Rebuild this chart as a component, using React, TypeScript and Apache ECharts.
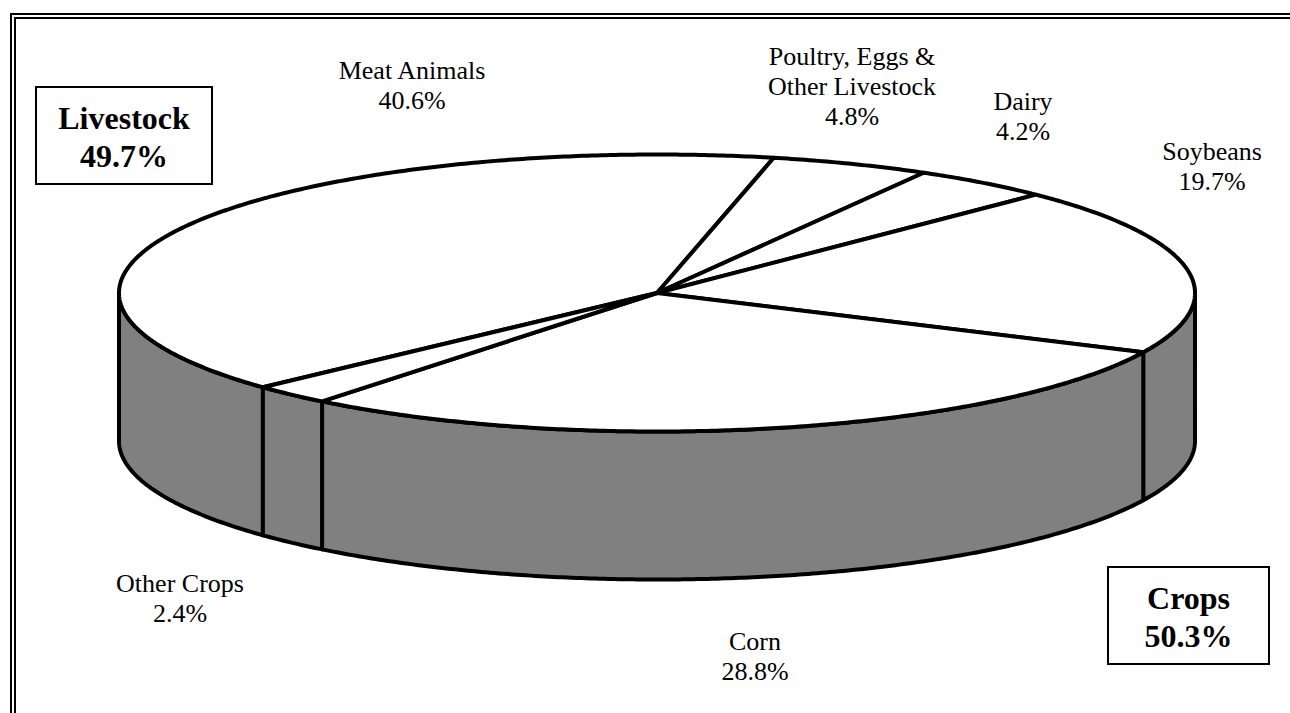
import React, { useEffect, useRef } from 'react';
import * as echarts from 'echarts';

// ---- data ----
const categories = ['Meat Animals', 'Poultry, Eggs &\nOther Livestock', 'Dairy', 'Soybeans', 'Corn', 'Other Crops'];
const values = [40.6, 4.8, 4.2, 19.7, 28.8, 2.4];
const groupNames = ['Livestock', 'Crops'];
const groupValues = [49.7, 50.3];

// ---- layout (positions / styles only) ----
const CX = 657;
const CY = 293;
const RX = 538;
const RY = 138.5;
const DEPTH = 148;
const START_DEG = 137.1; // parametric angle (clockwise, screen coords) where the first slice starts
const LABEL_POS: [number, number][] = [
  [412, 55],
  [852, 41],
  [1023, 86],
  [1212, 136],
  [755, 626],
  [180, 568],
];
const GROUP_BOX: [number, number, number, number][] = [
  [36, 87, 176, 97],
  [1108, 567, 161, 97],
];
const FONT = '"Liberation Serif", "Times New Roman", serif';

function pt(tDeg: number, dy: number): number[] {
  const t = (tDeg * Math.PI) / 180;
  return [CX + RX * Math.cos(t), CY + RY * Math.sin(t) + dy];
}

function arcPoints(a: number, b: number, dy: number): number[][] {
  const pts: number[][] = [];
  const n = Math.max(2, Math.ceil(Math.abs(b - a) / 0.5));
  for (let k = 0; k <= n; k++) pts.push(pt(a + ((b - a) * k) / n, dy));
  return pts;
}

export default function App() {
  const ref = useRef<HTMLDivElement>(null);
  useEffect(() => {
    if (!ref.current) return;
    const chart = echarts.init(ref.current, undefined, { renderer: 'svg' });
    const total = values.reduce((s, v) => s + v, 0);

    const renderItem = (params: any, api: any) => {
      const i = params.dataIndex;
      let before = 0;
      for (let k = 0; k < i; k++) before += values[k];
      const v = api.value(0);
      const a0 = START_DEG + (before / total) * 360;
      const span = (v / total) * 360;
      const children: any[] = [];
      const n0 = ((a0 % 360) + 360) % 360;
      const n1 = n0 + span;
      const ranges = [
        [0, 180],
        [360, 540],
      ];
      for (const [lo, hi] of ranges) {
        const s = Math.max(n0, lo);
        const e = Math.min(n1, hi);
        if (e > s) {
          const top = arcPoints(s, e, 0);
          const bottom = arcPoints(e, s, DEPTH);
          children.push({
            type: 'polygon',
            shape: { points: top.concat(bottom) },
            style: { fill: '#808080', stroke: '#000', lineWidth: 4, lineJoin: 'round' },
          });
        }
      }
      const face = [[CX, CY]].concat(arcPoints(a0, a0 + span, 0));
      children.push({
        type: 'polygon',
        shape: { points: face },
        style: { fill: '#ffffff', stroke: '#000', lineWidth: 4, lineJoin: 'round' },
      });
      return { type: 'group', children };
    };

    const graphics: any[] = [
      {
        type: 'rect',
        shape: { x: 11, y: 14, width: 1400, height: 800 },
        style: { fill: 'none', stroke: '#000', lineWidth: 2 },
        silent: true,
      },
      {
        type: 'rect',
        shape: { x: 15, y: 18, width: 1400, height: 800 },
        style: { fill: 'none', stroke: '#000', lineWidth: 2 },
        silent: true,
      },
    ];
    categories.forEach((c, i) => {
      graphics.push({
        type: 'text',
        x: LABEL_POS[i][0],
        y: LABEL_POS[i][1],
        silent: true,
        style: {
          text: `${c}\n${values[i].toFixed(1)}%`,
          fill: '#000',
          fontFamily: FONT,
          fontSize: 26,
          lineHeight: 30,
          align: 'center',
          verticalAlign: 'top',
        },
      });
    });
    groupNames.forEach((g, i) => {
      const [x, y, w, h] = GROUP_BOX[i];
      graphics.push({
        type: 'rect',
        shape: { x, y, width: w, height: h },
        style: { fill: '#fff', stroke: '#000', lineWidth: 2 },
        silent: true,
      });
      graphics.push({
        type: 'text',
        x: x + w / 2,
        y: y + h / 2 + 1.5,
        silent: true,
        style: {
          text: `${g}\n${groupValues[i].toFixed(1)}%`,
          fill: '#000',
          fontFamily: FONT,
          fontSize: 32,
          fontWeight: 'bold',
          lineHeight: 38,
          align: 'center',
          verticalAlign: 'middle',
        },
      });
    });

    chart.setOption({
      animation: false,
      backgroundColor: '#ffffff',
      series: [
        {
          type: 'custom',
          coordinateSystem: 'none',
          silent: true,
          renderItem,
          data: values.map((v, i) => ({ name: categories[i], value: [v] })),
        },
      ],
      graphic: graphics,
    });
    return () => chart.dispose();
  }, []);
  return (
    <div
      ref={ref}
      style={{ position: 'absolute', left: 0, top: 0, width: 1290, height: 713, background: '#fff' }}
    />
  );
}
